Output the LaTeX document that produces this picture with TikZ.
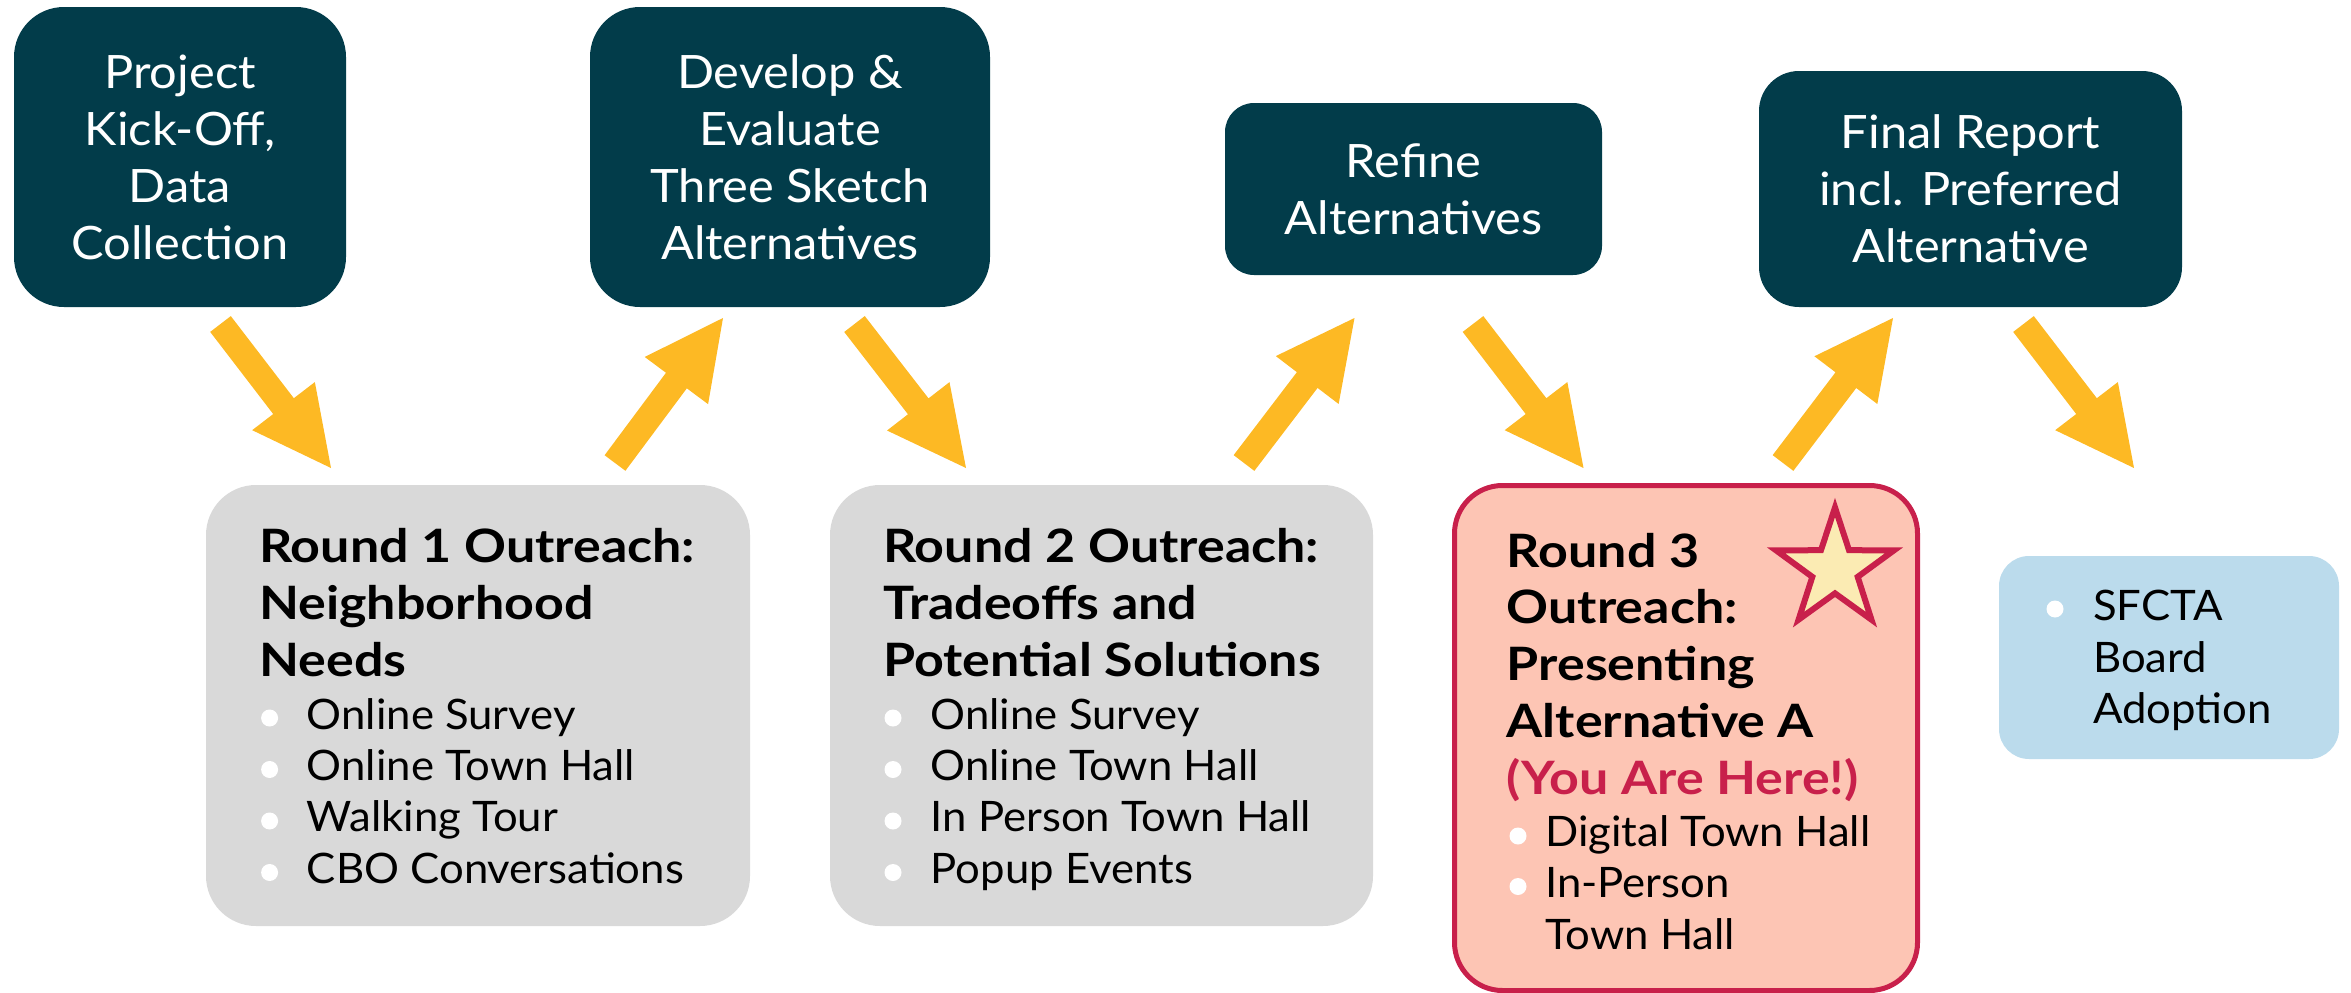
\documentclass[tikz,border=0pt]{standalone}
\usepackage{fontspec}
\setmainfont{Lato}[FakeStretch=1.06]
\newfontfamily\headfam{Lato}[FakeStretch=1.13]
\newfontfamily\itemfam{Lato}[FakeStretch=1.04]
\usetikzlibrary{calc,shapes.geometric}
\definecolor{darkteal}{HTML}{023C4A}
\definecolor{boxgray}{HTML}{D9D9D9}
\definecolor{arrowyellow}{HTML}{FDB924}
\definecolor{salmon}{HTML}{FDC5B4}
\definecolor{crimson}{HTML}{C8204B}
\definecolor{starfill}{HTML}{FBEBB3}
\definecolor{lightblue}{HTML}{BBDBEC}
\newcommand{\boxfont}{\fontsize{46}{57}\selectfont}
\newcommand{\headfont}{\headfam\fontsize{46}{56.7}\selectfont\bfseries}
\newcommand{\itemfont}{\itemfam\fontsize{42}{51.3}\selectfont}
\newcommand{\blockarrow}[2]{%
  \coordinate (#1hb) at ($(#2)!78pt!(#1)$);
  \fill[arrowyellow]
    ($(#1)!13pt!90:(#2)$) -- ($(#1hb)!13pt!-90:(#1)$) -- ($(#1hb)!39.5pt!-90:(#1)$)
    -- (#2) -- ($(#1hb)!39.5pt!90:(#1)$) -- ($(#1hb)!13pt!90:(#1)$)
    -- ($(#1)!13pt!-90:(#2)$) -- cycle;}
\tikzset{
  darkbox/.style={fill=darkteal, text=white, align=center, inner sep=0pt, font=\boxfont},
  graybox/.style={fill=boxgray, rounded corners=50pt, inner sep=0pt},
  headtext/.style={anchor=base west, align=left, inner sep=0pt, font=\headfont},
  itemtext/.style={anchor=base west, align=left, inner sep=0pt, font=\itemfont},
  dot/.style={fill=white}
}
\begin{document}
\begin{tikzpicture}[x=1pt,y=-1pt]
\useasboundingbox (0,0) rectangle (2351,993);
% top dark boxes
\node[darkbox, rounded corners=50pt, minimum width=332pt, minimum height=300pt] (kick) at (180,157) {Project\\Kick-Off,\\Data\\Collection};
\node[darkbox, rounded corners=50pt, minimum width=400pt, minimum height=300pt] (dev) at (790,157) {Develop \&\\Evaluate\\Three Sketch\\Alternatives};
\node[darkbox, rounded corners=29pt, minimum width=377pt, minimum height=172pt] (refine) at (1413.5,189) {Refine\\Alternatives};
\node[darkbox, rounded corners=40pt, minimum width=423pt, minimum height=236pt] (final) at (1970.5,189) {Final Report\\incl. Preferred\\Alternative};
% lower boxes
\node[graybox, minimum width=544pt, minimum height=441pt] (r1) at (478,705.5) {};
\node[graybox, minimum width=543pt, minimum height=441pt] (r2) at (1101.5,705.5) {};
\node[draw=crimson, line width=5pt, fill=salmon, rounded corners=48pt, inner sep=0pt, minimum width=463pt, minimum height=505pt] (r3) at (1686,738) {};
\node[fill=lightblue, rounded corners=30pt, inner sep=0pt, minimum width=340pt, minimum height=203pt] (board) at (2169,657.5) {};
% Round 1 text (anchors on the last line's baseline)
\node[headtext] (r1h) at (259,676) {Round 1 Outreach:\\Neighborhood\\Needs};
\node[itemtext] (r1i) at (306.7,883) {Online Survey\\Online Town Hall\\Walking Tour\\CBO Conversations};
\foreach \yy in {718,769.5,821,872.5} \fill[dot] (269.6,\yy) circle[radius=8.5pt];
% Round 2 text
\node[headtext] (r2h) at (883,676) {Round 2 Outreach:\\Tradeoffs and\\Potential Solutions};
\node[itemtext] (r2i) at (930.5,883) {Online Survey\\Online Town Hall\\In Person Town Hall\\Popup Events};
\foreach \yy in {718,769.5,821,872.5} \fill[dot] (893,\yy) circle[radius=8.5pt];
% Round 3 text
\node[headtext] (r3h) at (1506.7,794) {Round 3\\Outreach:\\Presenting\\Alternative A\\\textcolor{crimson}{(You Are Here!)}};
\node[itemtext] (r3i) at (1545,949) {Digital Town Hall\\In-Person\\Town Hall};
\foreach \yy in {836,886.5} \fill[dot] (1518,\yy) circle[radius=8.5pt];
\node[star, star points=5, star point ratio=2.6, draw=crimson, fill=starfill, line width=6pt, inner sep=0pt, minimum size=124pt] (youstar) at (1835,569.5) {};
% board text
\node[itemtext] (bt) at (2093,723.5) {SFCTA\\Board\\Adoption};
\fill[dot] (2055,609) circle[radius=8.5pt];
% arrows
\coordinate (a1s) at (220.5,324); \coordinate (a1e) at (331,468);
\coordinate (a2s) at (615,463);   \coordinate (a2e) at (723,318);
\coordinate (a3s) at (854.5,324); \coordinate (a3e) at (966,468);
\coordinate (a4s) at (1244,463);  \coordinate (a4e) at (1354.5,318);
\coordinate (a5s) at (1473,324);  \coordinate (a5e) at (1583.5,468);
\coordinate (a6s) at (1783,463);  \coordinate (a6e) at (1893,318);
\coordinate (a7s) at (2023.5,324);\coordinate (a7e) at (2134,468);
\blockarrow{a1s}{a1e}
\blockarrow{a2s}{a2e}
\blockarrow{a3s}{a3e}
\blockarrow{a4s}{a4e}
\blockarrow{a5s}{a5e}
\blockarrow{a6s}{a6e}
\blockarrow{a7s}{a7e}
\end{tikzpicture}
\end{document}
